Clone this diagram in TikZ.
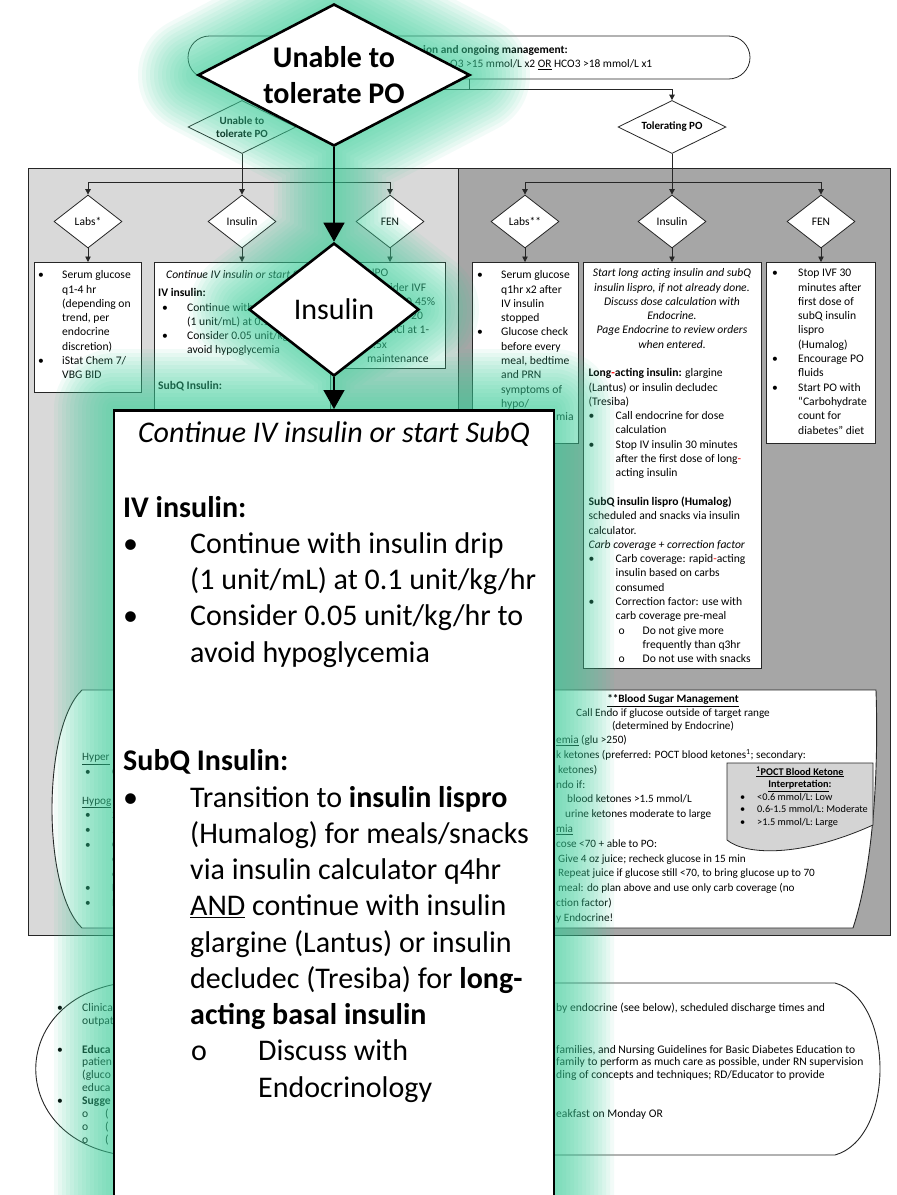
\documentclass[tikz,border=0pt]{standalone}
\usepackage{fontspec}
\setmainfont{Carlito}
\usetikzlibrary{arrows.meta,shapes.geometric,positioning}

\newcommand\bitem[1][23pt]{\makebox[#1][l]{\textbullet}}
\newcommand\sitem[1][23pt]{\makebox[#1][l]{o}}
\newcommand\hind[1][23pt]{\hspace*{#1}}

\begin{document}
\begin{tikzpicture}[
        x=1pt, y=-1pt,
    flow/.style={draw=edgec, line width=0.8pt},
    arr/.style={-{Triangle[length=5.5pt,width=5.5pt]}},
    bigarr/.style={-{Triangle[length=19pt,width=21pt]}},
    gate/.style={diamond, draw=edgec, fill=white, line width=0.8pt,
        inner sep=0pt, align=center, minimum width=68pt,
        minimum height=53pt, aspect=1.28,
        font=\fontsize{11.5}{13.5}\selectfont},
    branch/.style={gate, minimum width=108pt, aspect=2,
        font=\bfseries\fontsize{11}{13.5}\selectfont},
    card/.style={rectangle, draw=edgec, fill=white, line width=0.8pt,
        inner sep=0pt},
    txt/.style={anchor=north west, inner sep=0pt, align=left,
        font=\fontsize{11.6}{14.3}\selectfont},
    ctxt/.style={txt, anchor=north, align=center},
    memo/.style={txt, font=\fontsize{11.2}{14.8}\selectfont},
    keto/.style={txt, font=\fontsize{10.3}{12.7}\selectfont},
    plan/.style={txt, font=\fontsize{11.6}{12.9}\selectfont},
    glow/.style={draw=glowc, line join=round, opacity=0.065},
    zoomgate/.style={diamond, draw=black, fill=white, line width=2.6pt,
        inner sep=0pt, align=center, font=\fontsize{30}{36}\selectfont},
    zoombox/.style={rectangle, draw=black, fill=white, line width=2.6pt},
    zoomlink/.style={draw=black, line width=1.4pt},
    zoomtxt/.style={txt, font=\fontsize{30}{36.25}\selectfont}
]
\colorlet{edgec}{black!85}
\colorlet{paneA}{black!15}
\colorlet{paneB}{black!35}
\colorlet{ketoc}{black!17}
\definecolor{glowc}{RGB}{60,209,155}

    \useasboundingbox (0,0) rectangle (897,1195);
    \fill[white] (0,0) rectangle (897,1195);

    % entry criteria and first split
    \node[card, rounded corners=21.5pt, minimum width=562pt,
        minimum height=43pt] (crit) at (469,57.5) {};
    \node[txt, anchor=west, font=\bfseries\fontsize{11.4}{14}\selectfont]
        (critA) at (423,50) {ion and ongoing management:};
    \node[txt, anchor=west, font=\fontsize{11.4}{14}\selectfont]
        (critB) at (450,65) {O3 >15 mmol/L x2 \underline{OR} HCO3 >18 mmol/L x1};
    \coordinate (fork) at (469,89);
    \node[branch] (unable) at (242,127) {Unable to\\tolerate PO};
    \node[branch] (tolerating) at (672,127) {Tolerating PO};
    \draw[flow] (crit.south) -- (fork);
    \draw[flow, arr] (fork) -| (unable.north);
    \draw[flow, arr] (fork) -| (tolerating.north);

    % the two columns
    \fill[paneA] (28,168) rectangle (458,935);
    \fill[paneB] (458,168) rectangle (890,935);
    \draw[edgec, line width=1pt] (28,168) rectangle (890,935)
        (458,168) -- (458,935);

    \node[gate] (labsA) at (88,221.5) {Labs*};
    \node[gate] (insA) at (242,221.5) {Insulin};
    \node[gate] (fenA) at (390,221.5) {FEN};
    \node[gate] (labsB) at (525,221.5) {Labs**};
    \node[gate] (insB) at (672,221.5) {Insulin};
    \node[gate] (fenB) at (821,221.5) {FEN};
    \coordinate (forkA) at (242,182);
    \coordinate (forkB) at (672,182);
    \draw[flow, arr] (unable.south) -- (insA.north);
    \draw[flow, arr] (forkA) -| (labsA.north);
    \draw[flow, arr] (forkA) -| (fenA.north);
    \draw[flow, arr] (tolerating.south) -- (insB.north);
    \draw[flow, arr] (forkB) -| (labsB.north);
    \draw[flow, arr] (forkB) -| (fenB.north);

    \node[card, minimum width=107pt, minimum height=130pt, anchor=north] (boxlabsA) at (88,262) {};
    \node[card, minimum width=176pt, minimum height=420pt, anchor=north] (boxinsA) at (242,262) {};
    \node[card, minimum width=110pt, minimum height=106pt, anchor=north] (boxfenA) at (390,262) {};
    \node[card, minimum width=106pt, minimum height=181pt, anchor=north] (boxlabsB) at (525,262) {};
    \node[card, minimum width=178pt, minimum height=406pt, anchor=north] (boxinsB) at (672,262) {};
    \node[card, minimum width=109pt, minimum height=181pt, anchor=north] (boxfenB) at (821,262) {};
    \foreach \n in {labsA,insA,fenA,labsB,insB,fenB}
        \draw[flow, arr] (\n.south) -- (box\n.north);

    \node[txt] (labsAtxt) at (38,268.5) {\strut\bitem[24pt]Serum glucose\\
        \hind[24pt]q1-4 hr\\
        \hind[24pt](depending on\\
        \hind[24pt]trend, per\\
        \hind[24pt]endocrine\\
        \hind[24pt]discretion)\\
        \bitem[24pt]iStat Chem 7/\\
        \hind[24pt]VBG BID};
    \node[ctxt, font=\itshape\fontsize{11.6}{14.3}\selectfont] (insAhead)
        at (242,268.5) {\strut Continue IV insulin or start SubQ};
    \node[txt] (insAtxt) at (158,286.5) {\strut\textbf{IV insulin:}\\
        \hind[4pt]\bitem[25pt]Continue with\\
        \hind[29pt](1 unit/mL) at 0.1\\
        \hind[4pt]\bitem[25pt]Consider 0.05 unit/kg/hr to\\
        \hind[29pt]avoid hypoglycemia\\[21.7pt]
        \textbf{SubQ Insulin:}};
    \node[txt] (fenAtxt) at (342,266.5) {\strut\bitem[25pt]NPO\\
        \bitem[25pt]Consider IVF\\
        \hind[64pt]0.45\%\\
        \hind[69pt]20\\
        \hind[25pt]mEq KCl at 1-\\
        \hind[25pt]1.5x\\
        \hind[25pt]maintenance};

    \node[txt] (labsBtxt) at (477,268.5) {\strut\bitem[24pt]Serum glucose\\
        \hind[24pt]q1hr x2 after\\
        \hind[24pt]IV insulin\\
        \hind[24pt]stopped\\
        \bitem[24pt]Glucose check\\
        \hind[24pt]before every\\
        \hind[24pt]meal, bedtime\\
        \hind[24pt]and PRN\\
        \hind[24pt]symptoms of\\
        \hind[24pt]hypo/};
    \node[txt, anchor=west] (labsBtail) at (556,417) {mia};
    \node[ctxt, font=\itshape\fontsize{11.6}{14.3}\selectfont] (insBhead)
        at (672,266.5) {\strut Start long acting insulin and subQ\\
        insulin lispro, if not already done.\\
        Discuss dose calculation with\\
        Endocrine.\\
        Page Endocrine to review orders\\
        when entered.};
    \node[txt] (insBtxt) at (588.5,366.5) {\strut\textbf{Long\textcolor{red}{-}acting insulin:} glargine\\
        (Lantus) or insulin decludec\\
        (Tresiba)\\
        \bitem[27pt]Call endocrine for dose\\
        \hind[27pt]calculation\\
        \bitem[27pt]Stop IV insulin 30 minutes\\
        \hind[27pt]after the first dose of long\textcolor{red}{-}\\
        \hind[27pt]acting insulin\\[14.3pt]
        \textbf{SubQ insulin lispro (Humalog)}\\
        scheduled and snacks via insulin\\
        calculator.\\
        \textit{Carb coverage + correction factor}\\
        \bitem[27pt]Carb coverage: rapid\textcolor{red}{-}acting\\
        \hind[27pt]insulin based on carbs\\
        \hind[27pt]consumed\\
        \bitem[27pt]Correction factor: use with\\
        \hind[27pt]carb coverage pre-meal\\
        \hind[30pt]\sitem[24pt]Do not give more\\
        \hind[54pt]frequently than q3hr\\
        \hind[30pt]\sitem[24pt]Do not use with snacks};
    \node[txt] (fenBtxt) at (772,266.5) {\strut\bitem[26pt]Stop IVF 30\\
        \hind[26pt]minutes after\\
        \hind[26pt]first dose of\\
        \hind[26pt]subQ insulin\\
        \hind[26pt]lispro\\
        \hind[26pt](Humalog)\\
        \bitem[26pt]Encourage PO\\
        \hind[26pt]fluids\\
        \bitem[26pt]Start PO with\\
        \hind[26pt]“Carbohydrate\\
        \hind[26pt]count for\\
        \hind[26pt]diabetes” diet};

    % blood sugar management
    \draw[edgec, fill=white, line width=0.9pt] (82,690) -- (876,690)
        .. controls (879,780) and (872,870) .. (853,928) -- (82,928)
        .. controls (42,890) and (42,728) .. (82,690) -- cycle;
    \node[memo, anchor=north, align=center, font=\fontsize{11.2}{13.6}\selectfont]
        (bsmhead) at (673,693) {\strut\textbf{\underline{**Blood Sugar Management}}\\
        Call Endo if glucose outside of target range\\
        (determined by Endocrine)};
    \node[memo] (bsmright) at (556,733.1) {\strut\underline{emia} (glu >250)\\
        k ketones (preferred: POCT blood ketones\textsuperscript{1}; secondary:\\
        \hind[2pt]ketones)\\
        ndo if:\\
        \hind[11pt]blood ketones >1.5 mmol/L\\
        \hind[9pt]urine ketones moderate to large\\
        \underline{mia}\\
        cose <70 + able to PO:\\
        \hind[2pt]Give 4 oz juice; recheck glucose in 15 min\\
        \hind[2pt]Repeat juice if glucose still <70, to bring glucose up to 70\\
        \hind[2pt]meal: do plan above and use only carb coverage (no\\
        ction factor)\\
        y Endocrine!};
    \node[memo, font=\fontsize{11.2}{14.6}\selectfont] (bsmleft) at (82,750.1)
        {\strut\underline{Hyper}\\
        \hind[3pt]\bitem[27pt]C\\[14.6pt]
        \underline{Hypog}\\
        \hind[3pt]\bitem[27pt]2\\
        \hind[3pt]\bitem[27pt]5\\
        \hind[3pt]\bitem[27pt]C\\
        \hind[30pt]o\\
        \hind[30pt]o\\
        \hind[3pt]\bitem[27pt]F\\
        \hind[3pt]\bitem[27pt]N};

    \draw[edgec, fill=ketoc, line width=0.8pt] (727,763) -- (873,763) -- (873,825)
        .. controls (800,858) and (745,855) .. (727,840) -- cycle;
    \node[keto, anchor=north, align=center] (ketohead) at (800,766)
        {\strut\textbf{\underline{\textsuperscript{1}POCT Blood Ketone}}\\
        \textbf{\underline{Interpretation}:}};
    \node[keto] (ketolist) at (740,791) {\strut\bitem[17pt]<0.6 mmol/L: Low\\
        \bitem[17pt]0.6-1.5 mmol/L: Moderate\\
        \bitem[17pt]>1.5 mmol/L: Large};

    % discharge planning
    \draw[edgec, fill=white, line width=0.9pt] (122,983) -- (835,983)
        .. controls (895,1000) and (895,1138) .. (835,1155) -- (122,1155)
        .. controls (7,1138) and (7,1000) .. (122,983) -- cycle;
    \node[plan] (planleft) at (57,1002) {\strut\bitem[25pt]Clinica\\
        \hind[25pt]outpat\\[16pt]
        \bitem[25pt]\textbf{Educa}\\
        \hind[25pt]patien\\
        \hind[25pt](gluco\\
        \hind[25pt]educa\\
        \bitem[25pt]\textbf{Sugge}\\
        \hind[25pt]\sitem[23pt](\\
        \hind[25pt]\sitem[23pt](\\
        \hind[25pt]\sitem[23pt](};
    \node[plan] (planA) at (556,1002)
        {\strut by endocrine (see below), scheduled discharge times and};
    \node[plan] (planB) at (556,1043.8)
        {\strut families, and Nursing Guidelines for Basic Diabetes Education to\\
        family to perform as much care as possible, under RN supervision\\
        ding of concepts and techniques; RD/Educator to provide};
    \node[plan] (planC) at (556,1108.3) {\strut eakfast on Monday OR};

    % glow round the zoomed path
    \foreach \w in {120,112,...,8}
        \draw[glow, line width=\w pt]
            (334,4) -- (470,75) -- (334,146) -- (198,75) -- cycle
            (334,146) -- (334,243)
            (334,243) -- (419,309.5) -- (334,376) -- (249,309.5) -- cycle
            (334,376) -- (334,409)
            (114,409) rectangle (554,1240);

    % zoomed path
    \node[zoomgate, minimum width=272pt, minimum height=142pt, aspect=1.92,
        font=\bfseries\fontsize{30}{36}\selectfont] (bigunable) at (334,75)
        {Unable to\\tolerate PO};
    \node[zoomgate, minimum width=170pt, minimum height=133pt, aspect=1.28]
        (biginsulin) at (334,309.5) {Insulin};
    \node[zoombox, minimum width=440pt, minimum height=830pt, anchor=north]
        (bigbox) at (334,409) {};
    \draw[zoomlink, bigarr] (bigunable.south) -- (biginsulin.north);
    \draw[zoomlink, bigarr] (biginsulin.south) -- (bigbox.north);

    \node[zoomtxt, anchor=center, font=\itshape\fontsize{30}{36.25}\selectfont]
        (bigtitle) at (334,434) {Continue IV insulin or start SubQ};
    \node[zoomtxt] (bigtxt) at (123,491.6) {\strut\textbf{IV insulin:}\\
        \bitem[67pt]Continue with insulin drip\\
        \hind[67pt](1 unit/mL) at 0.1 unit/kg/hr\\
        \bitem[67pt]Consider 0.05 unit/kg/hr to\\
        \hind[67pt]avoid hypoglycemia\\[72.5pt]
        \textbf{SubQ Insulin:}\\
        \bitem[67pt]Transition to \textbf{insulin lispro}\\
        \hind[67pt](Humalog) for meals/snacks\\
        \hind[67pt]via insulin calculator q4hr\\
        \hind[67pt]\underline{AND} continue with insulin\\
        \hind[67pt]glargine (Lantus) or insulin\\
        \hind[67pt]decludec (Tresiba) for \textbf{long-}\\
        \hind[67pt]\textbf{acting basal insulin}\\
        \hind[68pt]\sitem[67pt]Discuss with\\
        \hind[135pt]Endocrinology};
\end{tikzpicture}
\end{document}
